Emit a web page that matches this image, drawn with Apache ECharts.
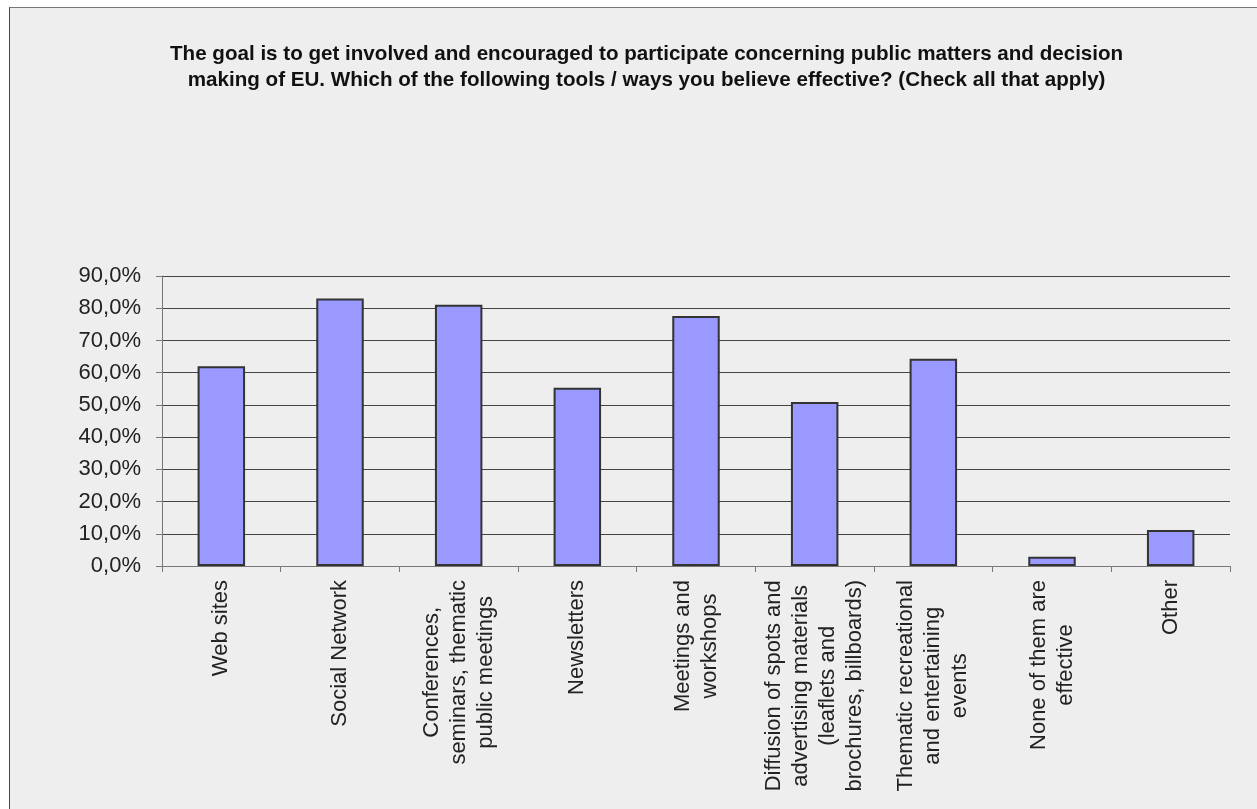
<!DOCTYPE html>
<html>
<head>
<meta charset="utf-8">
<script src="https://cdn.jsdelivr.net/npm/echarts@6/dist/echarts.min.js"></script>
<style>
html,body{margin:0;padding:0;background:#ffffff;width:1257px;height:809px;overflow:hidden;}
#frame{position:absolute;left:9px;top:7px;right:0;bottom:0;background:#eeeeee;border-left:1px solid #444;border-top:1px solid #777;}
#chart{position:absolute;left:0;top:0;width:1257px;height:809px;}
</style>
</head>
<body>
<div id="frame"></div>
<div id="chart"></div>
<script>
const titleLines = [
  'The goal is to get involved and encouraged to participate concerning public matters and decision',
  'making of EU. Which of the following tools / ways you believe effective? (Check all that apply)'
];
const categories = [
  'Web sites',
  'Social Network',
  'Conferences,\nseminars, thematic\npublic meetings',
  'Newsletters',
  'Meetings and\nworkshops',
  'Diffusion of spots and\nadvertising materials\n(leaflets and\nbrochures, billboards)',
  'Thematic recreational\nand entertaining\nevents',
  'None of them are\neffective',
  'Other'
];
const values = [62.0, 83.0, 81.1, 55.3, 77.6, 50.9, 64.3, 2.9, 11.2];
const yTicks = [0, 10, 20, 30, 40, 50, 60, 70, 80, 90];

const chart = echarts.init(document.getElementById('chart'), null, {renderer: 'canvas'});
const xFont = {fontFamily: '"Liberation Sans", Arial, sans-serif', fontSize: 22, color: '#222'};
const yFont = {fontFamily: '"Liberation Sans", Arial, sans-serif', fontSize: 22, color: '#222'};
const tFont = {fontFamily: '"Liberation Sans", Arial, sans-serif', fontSize: 20.6, fontWeight: 'bold', color: '#111', lineHeight: 26};
chart.setOption({
  backgroundColor: 'transparent',
  animation: false,
  title: {
    text: titleLines.map(function (l) { return '{t|' + l + '}'; }).join('\n'),
    left: 165,
    top: 36,
    textStyle: Object.assign({rich: {t: Object.assign({align: 'center'}, tFont)}}, tFont)
  },
  grid: {left: 162, right: 27, top: 276, bottom: 243, containLabel: false},
  xAxis: {
    type: 'category',
    data: categories,
    axisLine: {lineStyle: {color: '#777', width: 1}},
    axisTick: {show: true, length: 6, lineStyle: {color: '#777'}},
    axisLabel: {
      interval: 0,
      rotate: 90,
      margin: 14,
      formatter: function (v) { return v.split('\n').map(function (l) { return '{c|' + l + '}'; }).join('\n'); },
      rich: {c: Object.assign({align: 'center', lineHeight: 27}, xFont)}
    }
  },
  yAxis: {
    type: 'value',
    min: yTicks[0],
    max: yTicks[yTicks.length - 1],
    interval: 10,
    axisLine: {show: true, lineStyle: {color: '#777'}},
    axisTick: {show: true, length: 6, lineStyle: {color: '#777'}},
    splitLine: {show: true, lineStyle: {color: '#444', width: 1}},
    axisLabel: Object.assign({
      margin: 21,
      formatter: function (v) { return v.toFixed(1).replace('.', ',') + '%'; }
    }, yFont)
  },
  series: [{
    type: 'bar',
    data: values,
    barWidth: '40%',
    itemStyle: {color: '#9999ff', borderColor: '#333', borderWidth: 2}
  }]
});
</script>
</body>
</html>
